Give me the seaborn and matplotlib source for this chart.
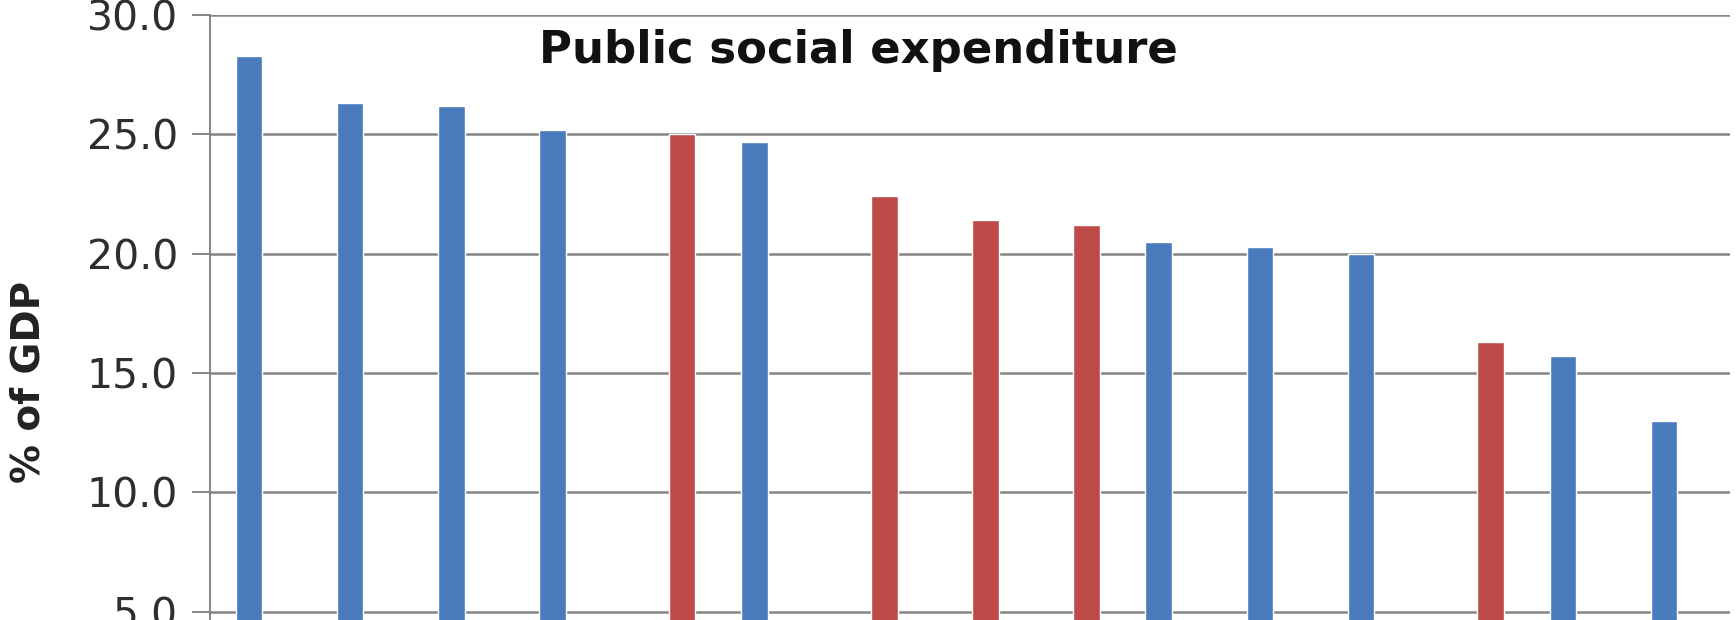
import matplotlib
matplotlib.use("Agg")
import matplotlib.pyplot as plt
import seaborn as sns
import pandas as pd
from matplotlib.ticker import FormatStrFormatter, MultipleLocator

# ---- data ----
categories = [f"C{i:02d}" for i in range(1, 16)]
values = [28.3, 26.3, 26.2, 25.2, 25.0, 24.7, 22.4, 21.4, 21.2, 20.5, 20.3, 20.0, 16.3, 15.7, 13.0]
groups = ["A", "A", "A", "A", "B", "A", "B", "B", "B", "A", "A", "A", "B", "A", "A"]
group_order = ["A", "B"]
group_colors = {"A": "#4a7bbd", "B": "#be4a48"}
title = "Public social expenditure"
ylabel = "% of GDP"

df = pd.DataFrame({"category": categories, "value": values, "group": groups})

sns.set_style("white")
plt.rcParams["font.family"] = ["DejaVu Sans"]

W, H = 1736, 620
fig = plt.figure(figsize=(W / 100, H / 100), dpi=100)
left = 210 / W
width = 1520 / W
top_px = 15
bottom_px = top_px + 30 * 23.87
ax = fig.add_axes([left, 1 - bottom_px / H, width, (bottom_px - top_px) / H])

sns.barplot(data=df, x="category", y="value", hue="group", hue_order=group_order,
            order=categories, palette=group_colors, width=0.57, gap=0.08,
            dodge=True, legend=False, saturation=1, ax=ax, zorder=3)

ax.set_xlim(-0.53, 14.51)
ax.set_ylim(0, 30)
ax.yaxis.set_major_locator(MultipleLocator(5))
ax.yaxis.set_major_formatter(FormatStrFormatter("%.1f"))

grid_c = "#858585"
ax.grid(axis="y", color=grid_c, linewidth=1.8, zorder=0)
ax.grid(axis="x", visible=False)
ax.set_axisbelow(True)
for s in ["top", "right", "bottom"]:
    ax.spines[s].set_visible(False)
ax.spines["left"].set_color(grid_c)
ax.spines["left"].set_linewidth(1.4)

ax.tick_params(axis="y", which="major", direction="out", length=13, width=1.4,
               color=grid_c, pad=10, labelsize=29.5, labelcolor="#2e2e2e", left=True)
ax.tick_params(axis="x", bottom=False, labelbottom=False)
ax.set_xlabel("")

ax.set_ylabel(ylabel, fontsize=28, fontweight="bold", color="#222222")
ax.yaxis.label.set_va("center")
ax.yaxis.set_label_coords((29 - 210) / 1520, (30 - (382 - 15) / 23.87) / 30)

fig.text(858 / W, 1 - 63 / H, title, ha="center", va="baseline",
         fontsize=32.4, fontweight="bold", color="#111111")

fig.savefig("out.png", dpi=100, facecolor="white")
